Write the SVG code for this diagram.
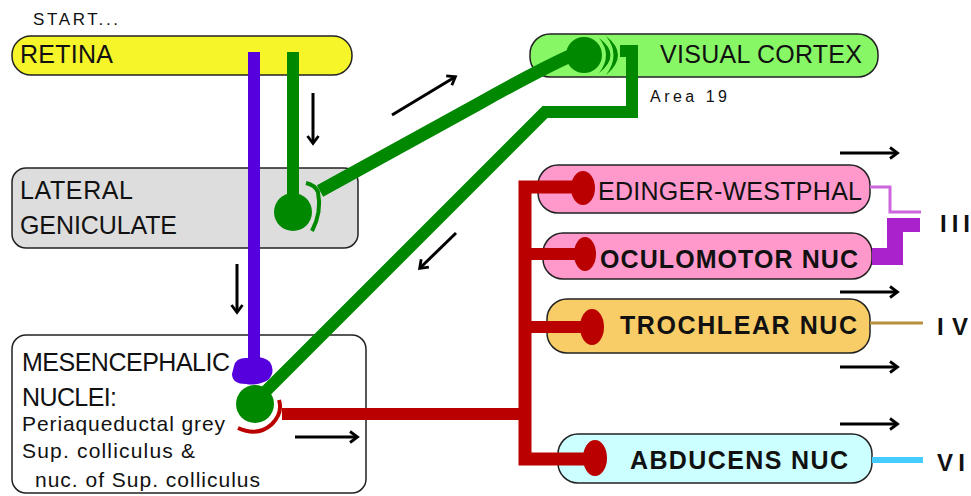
<svg xmlns="http://www.w3.org/2000/svg" width="971" height="496" viewBox="0 0 971 496">
<style>
.box{stroke:#222;stroke-width:1.5}
.t{font-family:"Liberation Sans",Arial,sans-serif;font-size:25px;fill:#111}
.b{font-weight:bold;font-size:25px}
.s{font-size:21px}
.arr{stroke:#000;stroke-width:3;fill:none;marker-end:url(#ah)}
.g{stroke:#008800;fill:none}
.r{stroke:#bb0000;fill:none}
</style>
<defs>
<marker id="ah" markerUnits="userSpaceOnUse" markerWidth="14" markerHeight="14" viewBox="0 0 14 14" refX="11" refY="7" orient="auto">
<path d="M4,1.5 L11.5,7 L4,12.5" stroke="#000" stroke-width="2.8" fill="none"/>
</marker>
</defs>
<rect width="971" height="496" fill="#fff"/>

<text class="t" x="33" y="25" style="font-size:17px" textLength="85">START...</text>

<g id="retina">
<rect class="box" x="12" y="36" width="340" height="39" rx="19" fill="#f5f52a"/>
<text class="t" x="20" y="63" textLength="93">RETINA</text>
</g>

<g id="lateral-geniculate">
<rect class="box" x="12" y="168" width="346" height="80" rx="14" fill="#dddddd"/>
<text class="t" x="20" y="199" textLength="113">LATERAL</text>
<text class="t" x="20" y="234" textLength="157">GENICULATE</text>
</g>

<g id="mesencephalic">
<rect class="box" x="12" y="335" width="354" height="158" rx="14" fill="#ffffff"/>
<text class="t" x="22" y="371" textLength="208">MESENCEPHALIC</text>
<text class="t" x="22" y="406" textLength="95">NUCLEI:</text>
<text class="t s" x="22" y="431" textLength="203">Periaqueductal grey</text>
<text class="t s" x="22" y="458" textLength="173">Sup. colliculus &amp;</text>
<text class="t s" x="35" y="487" textLength="225">nuc. of Sup. colliculus</text>
</g>

<g id="visual-cortex">
<rect class="box" x="530" y="34" width="348" height="43" rx="20" fill="#88f766"/>
<text class="t" x="660" y="63" textLength="202">VISUAL CORTEX</text>
<text class="t" x="650" y="102" style="font-size:16px" textLength="77">Area 19</text>
</g>

<g id="edinger-westphal">
<rect class="box" x="538" y="165" width="332" height="48" rx="20" fill="#ff99cc"/>
<text class="t" x="598" y="200" textLength="264">EDINGER-WESTPHAL</text>
</g>

<g id="oculomotor">
<rect class="box" x="543" y="233" width="329" height="46" rx="20" fill="#ff99cc"/>
<text class="t b" x="600" y="268" textLength="258">OCULOMOTOR NUC</text>
</g>

<g id="trochlear">
<rect class="box" x="547" y="299" width="323" height="54" rx="20" fill="#f8cc66"/>
<text class="t b" x="620" y="334" textLength="237">TROCHLEAR NUC</text>
</g>

<g id="abducens">
<rect class="box" x="558" y="434" width="314" height="49" rx="20" fill="#ccffff"/>
<text class="t b" x="630" y="469" textLength="218">ABDUCENS NUC</text>
</g>

<g id="nerve-labels">
<text class="t b" x="940" y="232" style="font-size:24px" textLength="30">III</text>
<text class="t b" x="937" y="335" style="font-size:24px" textLength="31">IV</text>
<text class="t b" x="937" y="471" style="font-size:24px" textLength="28">VI</text>
</g>

<g id="connectors">
<!-- purple retina -> mesencephalic -->
<path d="M254,52 V366" stroke="#5500dd" stroke-width="12" fill="none"/>
<path d="M234,366 Q236,357 248,358 Q262,355 270,362 Q276,372 268,380 Q258,386 246,384 Q232,384 232,374 Z" fill="#5500dd"/>

<!-- green retina -> LGN -->
<path class="g" d="M293,52 V210" stroke-width="12"/>
<circle cx="293" cy="212" r="19" fill="#008800"/>
<path class="g" d="M306,183 Q315,185 318,192 Q322,212 312,231" stroke-width="4"/>

<!-- green LGN -> visual cortex -->
<path class="g" d="M320,191 L480,103 Q535,72 572,55" stroke-width="13"/>
<circle cx="584" cy="55" r="18" fill="#008800"/>
<path d="M599,38 Q622,55 599,73 Q613,55 599,38 Z" fill="#008800"/>
<path d="M606,36 Q630,55 606,75 Q621,55 606,36 Z" fill="#008800"/>

<!-- green visual cortex -> mesencephalic -->
<path class="g" d="M620,51 H632 V112 H545 L255,402" stroke-width="12" stroke-linejoin="miter"/>
<circle cx="255" cy="404" r="19" fill="#008800"/>

<!-- red mesencephalic -> motor nuclei -->
<path class="r" d="M238,428 Q258,437 272,424 Q283,413 279,400" stroke-width="4"/>
<path class="r" d="M282,414 H525" stroke-width="12"/>
<path class="r" d="M583,187 H525 V459 H595" stroke-width="13"/>
<path class="r" d="M525,254 H585 M525,327 H592" stroke-width="12"/>
<ellipse cx="583" cy="188" rx="12" ry="17" fill="#bb0000"/>
<ellipse cx="585" cy="254" rx="11" ry="17" fill="#bb0000"/>
<ellipse cx="592" cy="327" rx="12" ry="18" fill="#bb0000"/>
<ellipse cx="595" cy="458" rx="12" ry="18" fill="#bb0000"/>

<!-- nerves -->
<path d="M870,187 H890 V212 H921" stroke="#cc66dd" stroke-width="3" fill="none"/>
<polygon points="872,248 887,248 887,218 920,218 920,232 903,232 903,265 872,265" fill="#aa22cc"/>
<path d="M870,323 H923" stroke="#b89040" stroke-width="3"/>
<path d="M872,460 H923" stroke="#44ccff" stroke-width="6"/>

<!-- direction arrows -->
<path class="arr" d="M313,93 V143"/>
<path class="arr" d="M237,264 V312"/>
<path class="arr" d="M392,115 L455,77"/>
<path class="arr" d="M456,233 L420,268"/>
<path class="arr" d="M295,437 H357"/>
<path class="arr" d="M840,153 H897"/>
<path class="arr" d="M840,292 H897"/>
<path class="arr" d="M840,367 H897"/>
<path class="arr" d="M840,424 H897"/>
</g>
</svg>
